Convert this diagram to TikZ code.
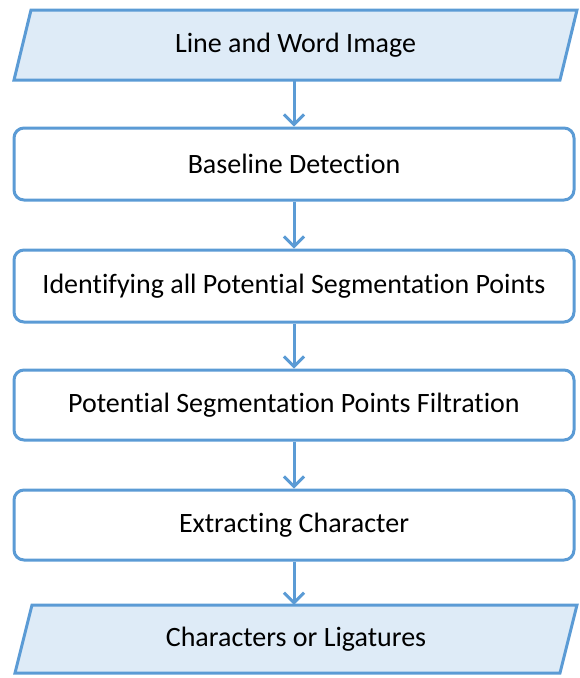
\documentclass[tikz,border=0pt]{standalone}
\usepackage{fontspec}
\setmainfont{Carlito}[Ligatures={NoCommon}]
\usetikzlibrary{arrows.meta}
\definecolor{bord}{HTML}{5B9BD5}
\definecolor{pfill}{HTML}{DEEBF7}
\tikzset{
  procbox/.style={draw=bord, line width=3pt, rounded corners=10pt, fill=white, minimum width=560pt, minimum height=72pt, inner sep=0pt, font=\fontsize{28}{32}\selectfont},
  iotext/.style={inner sep=0pt, minimum width=530pt, font=\fontsize{28}{32}\selectfont},
  iobox/.style={draw=bord, line width=3pt, fill=pfill, line join=miter},
  flow/.style={draw=bord, line width=3pt, -{Straight Barb[length=10pt,width=20pt]}}
}
\begin{document}
\begin{tikzpicture}[x=1pt,y=-1pt]
\useasboundingbox (0,0) rectangle (579,678);
% top parallelogram
\path[iobox] (31,10) -- (577,10) -- (560,80) -- (14,80) -- cycle;
\node[iotext, minimum height=70pt] (in) at (295.5,45) {Line and Word Image};
\node[procbox] (b1) at (294,164) {Baseline Detection};
\node[procbox] (b2) at (294,286) {Identifying all Potential Segmentation Points};
\node[procbox, minimum height=70pt] (b3) at (294,405) {Potential Segmentation Points Filtration};
\node[procbox, minimum height=70pt] (b4) at (294,525) {Extracting Character};
% bottom parallelogram
\path[iobox] (32,605) -- (577,605) -- (560,673) -- (15,673) -- cycle;
\node[iotext, minimum height=68pt] (out) at (296,639) {Characters or Ligatures};
\draw[flow] (in.south -| b1.north) -- (b1.north);
\draw[flow] (b1.south) -- (b2.north);
\draw[flow] (b2.south) -- (b3.north);
\draw[flow] (b3.south) -- (b4.north);
\draw[flow] (b4.south) -- (out.north -| b4.south);
\end{tikzpicture}
\end{document}
